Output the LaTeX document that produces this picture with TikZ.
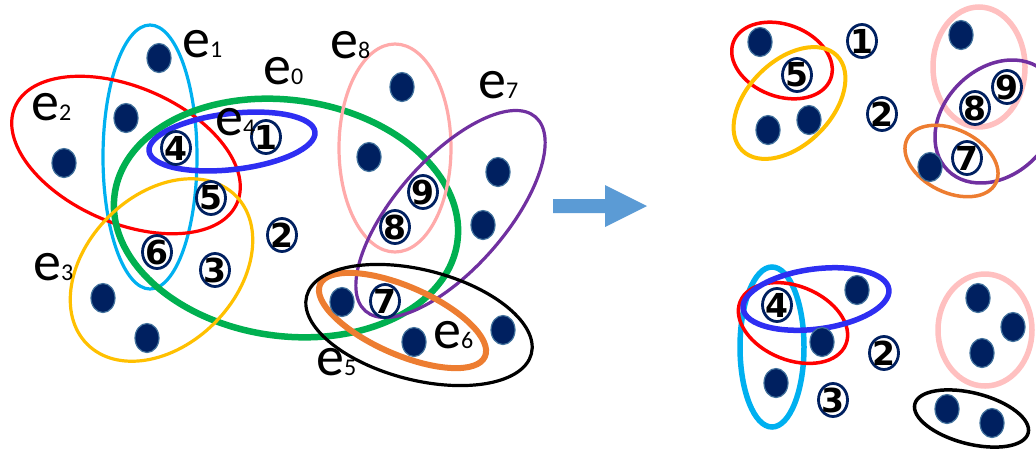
\documentclass[tikz,border=0pt]{standalone}
\usepackage{fontspec}
\newfontfamily\labfont{Carlito}
\newfontfamily\numfont{DejaVu Sans}
\usetikzlibrary{shapes.geometric}
\definecolor{navy}{HTML}{002060}
\definecolor{dotedge}{HTML}{41719C}
\definecolor{ecyan}{HTML}{00B0F0}
\definecolor{ered}{HTML}{FF0000}
\definecolor{egreen}{HTML}{00B050}
\definecolor{eblue}{HTML}{2E2EF2}
\definecolor{egold}{HTML}{FFC000}
\definecolor{epink}{HTML}{FFAAAA}
\definecolor{epinkr}{HTML}{FFC0C0}
\definecolor{epurple}{HTML}{7030A0}
\definecolor{eorange}{HTML}{ED7D31}
\definecolor{arrowblue}{HTML}{5B9BD5}
\newcommand\sub[1]{{\fontsize{24}{24}\selectfont #1}}
\begin{document}
\begin{tikzpicture}[x=1pt,y=-1pt,
  dot/.style={ellipse, fill=navy, draw=dotedge, line width=1.2pt, minimum width=24pt, minimum height=29pt, inner sep=0pt},
  numc/.style={ellipse, draw=navy, fill=white, line width=2.8pt, minimum width=29pt, minimum height=33pt, inner sep=-4pt, text=black, font=\numfont\bfseries\fontsize{33}{33}\selectfont},
  lab/.style={anchor=base west, inner sep=0pt, font=\labfont\fontsize{56}{56}\selectfont},
  thin/.style={line width=3.2pt},
  thick/.style={line width=6pt},
]
\useasboundingbox (0,0) rectangle (1036,451);
\clip (0,0) rectangle (1036,451);
% ---------------- left hypergraph ----------------
\draw[ecyan, thin] (150,157) ellipse[x radius=47, y radius=132];
\draw[ered, thin, rotate around={-23.4:(126,155)}] (126,155) ellipse[x radius=121, y radius=68];
\draw[egreen, line width=6.5pt, rotate around={-8:(286,218)}] (286,218) ellipse[x radius=173, y radius=118];
\draw[eblue, line width=5.5pt, rotate around={6.6:(232,141.5)}] (232,141.5) ellipse[x radius=83.5, y radius=28];
\draw[egold, thin, rotate around={45:(161.5,270)}] (161.5,270) ellipse[x radius=105, y radius=75];
\draw[epink, thin] (395,148) ellipse[x radius=56, y radius=104];
\draw[epurple, thin, rotate around={48.7:(450.5,214)}] (450.5,214) ellipse[x radius=129, y radius=55];
\draw[eorange, thick, rotate around={-23.6:(402.5,320.5)}] (402.5,320.5) ellipse[x radius=90, y radius=34];
\draw[black, thin, rotate around={-14.4:(419,325)}] (419,325) ellipse[x radius=116, y radius=55];

\node[dot] (a1) at (159,58) {};
\node[dot] (a2) at (126,118) {};
\node[dot] (a3) at (64,163) {};
\node[dot] (a4) at (402,87) {};
\node[dot] (a5) at (369,157) {};
\node[dot] (a6) at (498,172) {};
\node[dot] (a7) at (483,225) {};
\node[dot] (a8) at (103,298) {};
\node[dot] (a9) at (147,338) {};
\node[dot] (a10) at (342,302) {};
\node[dot] (a11) at (414,342) {};
\node[dot] (a12) at (503,330) {};

\node[numc] (n1) at (266,137) {1};
\node[numc] (n4) at (176,148) {4};
\node[numc] (n5) at (211,198) {5};
\node[numc] (n2) at (282,235) {2};
\node[numc] (n6) at (157,252) {6};
\node[numc] (n3) at (215,270) {3};
\node[numc] (n9) at (423,192) {9};
\node[numc] (n8) at (395,227) {8};
\node[numc] (n7) at (385,301) {7};

\node[lab] (l1) at (182,57) {e\sub{1}};
\node[lab] (l0) at (263,84) {e\sub{0}};
\node[lab] (l2) at (31,120) {e\sub{2}};
\node[lab] (l4) at (215,135) {e\sub{4}};
\node[lab] (l8) at (330,58) {e\sub{8}};
\node[lab] (l7) at (478,98) {e\sub{7}};
\node[lab] (l3) at (33,280) {e\sub{3}};
\node[lab] (l6) at (433,348) {e\sub{6}};
\node[lab] (l5) at (316,375) {e\sub{5}};

% ---------------- arrow ----------------
\fill[arrowblue] (553,199) -- (605,199) -- (605,185) -- (647,206) -- (605,227) -- (605,213) -- (553,213) -- cycle;

% ---------------- right top ----------------
\draw[ered, line width=3.5pt, rotate around={-20.6:(782,60.5)}] (782,60.5) ellipse[x radius=52, y radius=36];
\draw[egold, line width=4pt, rotate around={45:(789.5,103)}] (789.5,103) ellipse[x radius=67, y radius=42];
\draw[epinkr, line width=5.5pt] (979,67) ellipse[x radius=46, y radius=60];
\draw[epurple, line width=3.5pt, rotate around={45:(996.5,121.5)}] (996.5,121.5) ellipse[x radius=69, y radius=53];
\draw[eorange, line width=3.5pt, rotate around={-26.2:(951.5,161)}] (951.5,161) ellipse[x radius=49.5, y radius=31.5];

\node[dot] (b1) at (760,42) {};
\node[dot] (b2) at (768,130) {};
\node[dot] (b3) at (809,120) {};
\node[dot] (b4) at (961,35) {};
\node[dot] (b5) at (930,167) {};
\node[numc] (m5) at (797,75) {5};
\node[numc] (m1) at (862,41) {1};
\node[numc] (m2) at (882,114) {2};
\node[numc] (m9) at (1007,87) {9};
\node[numc] (m8) at (975,108) {8};
\node[numc] (m7) at (967,158) {7};

% ---------------- right bottom ----------------
\draw[ecyan, line width=5.5pt] (772,347) ellipse[x radius=32, y radius=80];
\draw[ered, line width=3.5pt, rotate around={-22:(793,323)}] (793,323) ellipse[x radius=57, y radius=37];
\draw[eblue, line width=5.5pt, rotate around={7.6:(816,299)}] (816,299) ellipse[x radius=73.5, y radius=30];
\draw[epinkr, line width=5.5pt] (985,330) ellipse[x radius=47, y radius=56];
\draw[black, line width=3.5pt, rotate around={-14.3:(971.5,418.5)}] (971.5,418.5) ellipse[x radius=58.5, y radius=25.5];

\node[dot] (c1) at (857,290) {};
\node[dot] (c2) at (822,342) {};
\node[dot] (c3) at (776,383) {};
\node[dot] (c4) at (978,298) {};
\node[dot] (c5) at (1013,327) {};
\node[dot] (c6) at (982,353) {};
\node[dot] (c7) at (947,409) {};
\node[dot] (c8) at (992,423) {};
\node[numc] (k4) at (777,305) {4};
\node[numc] (k2) at (884,353) {2};
\node[numc] (k3) at (833,400) {3};
\end{tikzpicture}
\end{document}
